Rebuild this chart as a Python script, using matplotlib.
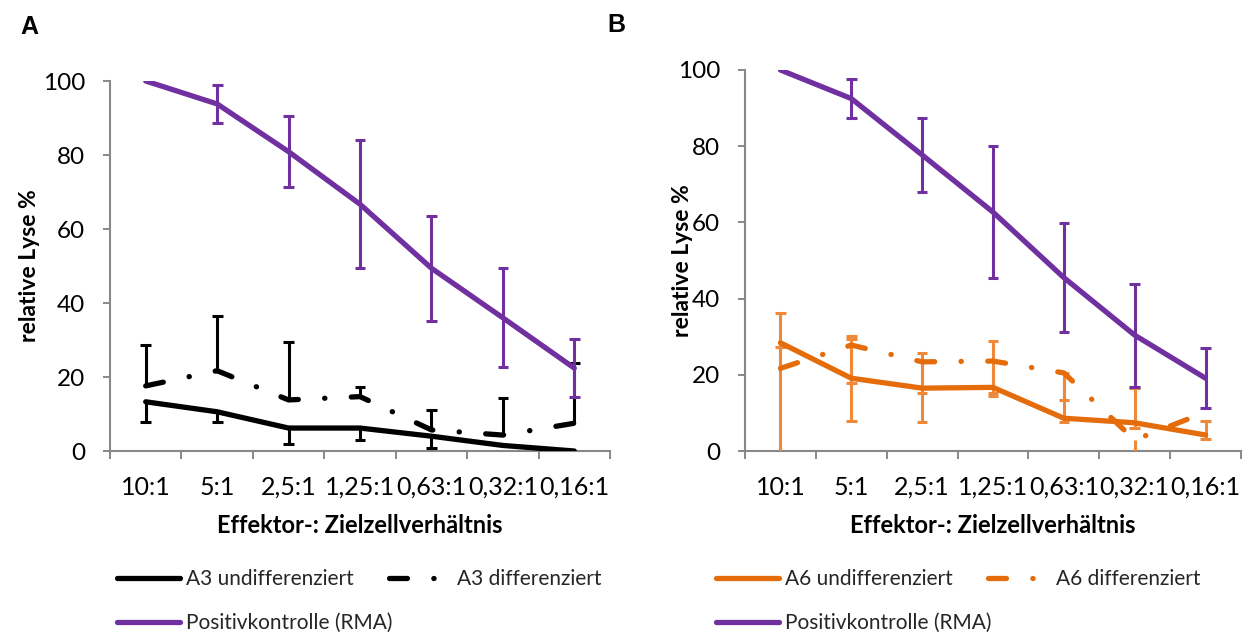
import numpy as np
import matplotlib.pyplot as plt

# relative lysis (%) per effector:target ratio, mean and error bar lengths
ratios = ['10:1', '5:1', '2,5:1', '1,25:1', '0,63:1', '0,32:1', '0,16:1']

# panel A: A3 cells
rma_a = [100, 93.8, 80.9, 66.7, 49.4, 36.0, 22.4]
rma_a_err = [0, 5.1, 9.6, 17.3, 14.2, 13.4, 7.8]
a3_undiff = [13.3, 10.6, 6.2, 6.2, 4.0, 1.5, 0.0]
a3_undiff_lo = [5.5, 2.7, 4.3, 3.2, 3.3, 0, 0]
a3_undiff_hi = [0, 0, 0, 0, 0, 0, 0]
a3_diff = [17.6, 21.7, 13.8, 14.7, 5.7, 4.3, 7.5]
a3_diff_lo = [0, 0, 0, 0, 0, 0, 0]
a3_diff_hi = [11.0, 14.9, 15.6, 2.5, 5.4, 9.9, 16.2]

# panel B: A6 cells
rma_b = [100, 92.5, 77.7, 62.7, 45.5, 30.4, 19.1]
rma_b_err = [0, 5.1, 9.6, 17.4, 14.3, 13.5, 7.9]
a6_undiff = [28.4, 19.1, 16.5, 16.7, 8.6, 7.4, 4.2]
a6_undiff_lo = [30.0, 11.1, 9.0, 2.3, 0.9, 1.3, 1.1]
a6_undiff_hi = [7.7, 11.1, 9.1, 0, 11.8, 9.1, 3.8]
a6_diff = [21.7, 27.8, 23.4, 23.6, 20.5, 2.9, 10.2]
a6_diff_lo = [0, 9.9, 8.1, 8.5, 7.1, 4.0, 0]
a6_diff_hi = [5.7, 1.5, 0, 5.4, 0, 0, 0]

purple = '#7030A0'
orange = '#E46C0A'
orange_err = '#F0883A'
axis_grey = '#888888'

plt.rcParams['font.family'] = ['Lato', 'DejaVu Sans']

fig = plt.figure(figsize=(12.48, 6.32), dpi=100)
ax_a = fig.add_axes([110/1248, 1 - 451/632, 500/1248, 370/632])
ax_b = fig.add_axes([745/1248, 1 - 451/632, 496/1248, 381/632])

x = np.arange(len(ratios))
dash_dot = (0, (3.4, 5, 0.05, 5))


def err_bars(ax, y, lo, hi, color, lw=2.2, half=0.075):
    for xi, yi, l, h in zip(x, y, lo, hi):
        if l == 0 and h == 0:
            continue
        ax.vlines(xi, yi - l, yi + h, color=color, lw=lw, zorder=3)
        if l > 0:
            ax.hlines(yi - l, xi - half, xi + half, color=color, lw=lw, zorder=3)
        if h > 0:
            ax.hlines(yi + h, xi - half, xi + half, color=color, lw=lw, zorder=3)


def style_axes(ax, ylabelpad):
    ax.set_xlim(-0.5, len(ratios) - 0.5)
    ax.set_ylim(0, 100)
    ax.set_yticks(range(0, 101, 20))
    ax.set_xticks(x)
    ax.set_xticklabels(ratios)
    ax.set_xticks(np.arange(len(ratios) + 1) - 0.5, minor=True)
    ax.tick_params(axis='x', which='major', length=0, pad=18, labelsize=18)
    ax.tick_params(axis='x', which='minor', length=6, width=1.4, color=axis_grey)
    ax.tick_params(axis='y', length=5, width=1.4, color=axis_grey, pad=13, labelsize=17.5)
    for s in ['top', 'right']:
        ax.spines[s].set_visible(False)
    for s in ['left', 'bottom']:
        ax.spines[s].set_color(axis_grey)
        ax.spines[s].set_linewidth(1.5)
    ax.set_xlabel('Effektor-: Zielzellverhältnis', fontsize=17, fontweight='bold', labelpad=11)
    ax.set_ylabel('relative Lyse %', fontsize=16.5, fontweight='bold', labelpad=ylabelpad)


def draw_panel(ax, undiff, u_lo, u_hi, diff, d_lo, d_hi, rma, rma_err,
               col, col_err, ylabelpad):
    line_u, = ax.plot(x, undiff, color=col, lw=3.8, solid_joinstyle='round',
                      solid_capstyle='round', zorder=4)
    err_bars(ax, undiff, u_lo, u_hi, col_err)
    line_d, = ax.plot(x, diff, color=col, lw=3.8, linestyle=dash_dot,
                      dash_capstyle='round', zorder=4)
    err_bars(ax, diff, d_lo, d_hi, col_err)
    line_r, = ax.plot(x, rma, color=purple, lw=3.8, solid_joinstyle='round',
                      solid_capstyle='round', zorder=6)
    err_bars(ax, rma, rma_err, rma_err, purple)
    style_axes(ax, ylabelpad)
    return line_u, line_d, line_r


h_a = draw_panel(ax_a, a3_undiff, a3_undiff_lo, a3_undiff_hi,
                 a3_diff, a3_diff_lo, a3_diff_hi, rma_a, rma_a_err,
                 'black', 'black', 2)
h_b = draw_panel(ax_b, a6_undiff, a6_undiff_lo, a6_undiff_hi,
                 a6_diff, a6_diff_lo, a6_diff_hi, rma_b, rma_b_err,
                 orange, orange_err, -11)

leg_kw = dict(loc='upper left', frameon=False, bbox_transform=fig.transFigure,
              borderpad=0, borderaxespad=0, fontsize=15, handlelength=3.0,
              handletextpad=0.3)

# legend: two entries on the first row, positive control on its own row
for ax, (lu, ld, lr), name, x0, x1 in [(ax_a, h_a, 'A3', 117, 388),
                                       (ax_b, h_b, 'A6', 716, 987)]:
    row1 = ax.legend([lu, ld], [name + ' undifferenziert', name + ' differenziert'],
                     ncol=2, columnspacing=(x1 - x0 - 236) / 20.8,
                     bbox_to_anchor=(x0/1248, 1 - 569/632), **leg_kw)
    ax.add_artist(row1)
    row2 = ax.legend([lr], ['Positivkontrolle (RMA)'],
                     bbox_to_anchor=(x0/1248, 1 - 613/632), **leg_kw)
    for leg in (row1, row2):
        for t in leg.get_texts():
            t.set_color('#262626')

fig.text(20/1248, 1 - 34/632, 'A', fontsize=18, fontweight='bold', family='Liberation Sans')
fig.text(607/1248, 1 - 32/632, 'B', fontsize=18, fontweight='bold', family='Liberation Sans')

fig.savefig('out.png', dpi=100)
